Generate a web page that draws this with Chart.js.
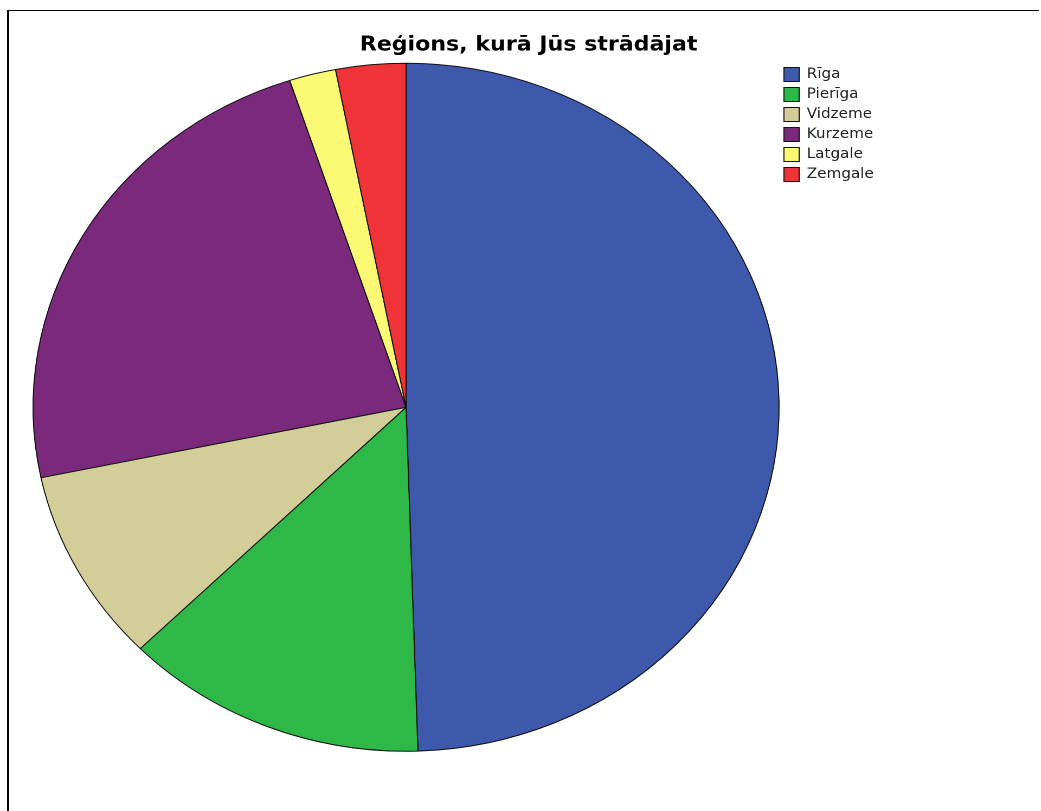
<!DOCTYPE html>
<html>
<head>
<meta charset="utf-8">
<script src="https://cdn.jsdelivr.net/npm/chart.js@4"></script>
<style>
  html, body { margin: 0; padding: 0; width: 1041px; height: 811px; overflow: hidden; background: #fff; }
  #frame { position: absolute; left: 7px; top: 10px; width: 1030px; height: 820px;
           border-top: 1px solid #000; border-left: 2px solid #000; }
  #wrap { position: absolute; left: 0; top: 0; width: 975px; height: 811px;
          transform: scaleX(1.0843); transform-origin: 0 0; }
</style>
</head>
<body>
<div id="frame"></div>
<div id="wrap"><canvas id="c"></canvas></div>
<script>
const titleText = 'Reģions, kurā Jūs strādājat';
const regions = ['Rīga', 'Pierīga', 'Vidzeme', 'Kurzeme', 'Latgale', 'Zemgale'];
const counts = [49, 13, 9, 23, 2, 3];
const colors = ['#3E58AC', '#2EB848', '#D3CE97', '#7A297C', '#FBF873', '#EF3338'];

new Chart(document.getElementById('c'), {
  type: 'pie',
  data: {
    labels: regions,
    datasets: [{
      data: counts,
      backgroundColor: colors,
      borderColor: '#111',
      borderWidth: 1,
      clip: false
    }]
  },
  options: {
    responsive: true,
    maintainAspectRatio: false,
    animation: false,
    devicePixelRatio: 2,
    radius: 344,
    layout: { padding: { left: 163, right: 163, top: 0, bottom: 58 } },
    scales: {
      spacer: {
        type: 'linear',
        axis: 'y',
        position: 'right',
        display: true,
        grid: { display: false, drawTicks: false },
        border: { display: false },
        ticks: { display: false },
        afterFit: (s) => { s.width = 131; }
      }
    },
    plugins: {
      tooltip: { enabled: false },
      title: {
        display: true,
        text: titleText,
        color: '#000',
        font: { family: 'DejaVu Sans', size: 20.4, weight: 'bold' },
        padding: { top: 33, bottom: 4 }
      },
      legend: {
        display: true,
        position: 'right',
        align: 'start',
        fullSize: false,
        maxWidth: 95,
        labels: {
          boxWidth: 14,
          boxHeight: 14,
          padding: 6,
          color: '#222',
          font: { family: 'DejaVu Sans', size: 14 }
        }
      }
    }
  }
});
</script>
</body>
</html>
